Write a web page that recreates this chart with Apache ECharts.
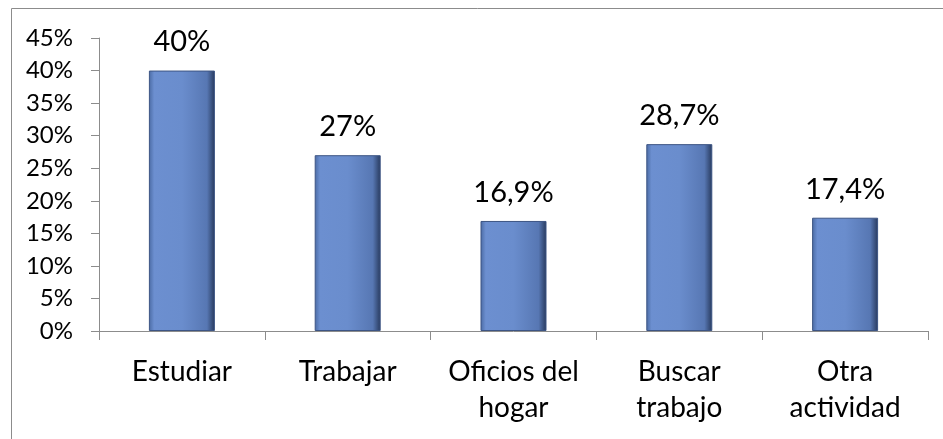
<!DOCTYPE html>
<html>
<head>
<meta charset="utf-8">
<script src="https://cdn.jsdelivr.net/npm/echarts@6/dist/echarts.min.js"></script>
<style>
  html, body { margin: 0; padding: 0; background: #fff; }
  #chart { width: 943px; height: 439px; }
</style>
</head>
<body>
<div id="chart"></div>
<script>
// categorias y valores (%)
var categories = ['Estudiar', 'Trabajar', 'Oficios del\nhogar', 'Buscar\ntrabajo', 'Otra\nactividad'];
var values = [40, 27, 16.9, 28.7, 17.4];
var yTicks = [0, 5, 10, 15, 20, 25, 30, 35, 40, 45];

var chart = echarts.init(document.getElementById('chart'));

var barColor = new echarts.graphic.LinearGradient(0, 0, 1, 0, [
  { offset: 0, color: '#4a6aa3' },
  { offset: 0.08, color: '#6c8fd0' },
  { offset: 0.5, color: '#6a8dcd' },
  { offset: 0.88, color: '#5777b3' },
  { offset: 1, color: '#27395c' }
]);

var option = {
  animation: false,
  textStyle: { fontFamily: 'Lato, "Open Sans", sans-serif' },
  graphic: [{
    type: 'rect',
    shape: { x: 11.5, y: 8.5, width: 1000, height: 1000 },
    style: { fill: 'none', stroke: '#8c8c8c', lineWidth: 1 },
    silent: true
  }],
  grid: { left: 99, right: 15, top: 38, bottom: 108 },
  xAxis: {
    type: 'category',
    data: categories,
    axisLine: { lineStyle: { color: '#8c8c8c', width: 1 } },
    axisTick: { show: true, length: 9, lineStyle: { color: '#8c8c8c' } },
    axisLabel: { color: '#000', fontSize: 28, lineHeight: 36, margin: 23, interval: 0, hideOverlap: false }
  },
  yAxis: {
    type: 'value',
    min: yTicks[0],
    max: yTicks[yTicks.length - 1],
    interval: 5,
    splitLine: { show: false },
    axisLine: { show: true, lineStyle: { color: '#8c8c8c', width: 1 } },
    axisTick: { show: true, length: 8, lineStyle: { color: '#8c8c8c' } },
    axisLabel: { color: '#000', fontSize: 24, margin: 26, formatter: '{value}%' }
  },
  series: [{
    type: 'bar',
    data: values,
    barWidth: 66,
    itemStyle: { color: barColor, borderColor: '#3d5584', borderWidth: 1 },
    label: {
      show: true,
      position: 'top',
      distance: 14,
      color: '#000',
      fontSize: 29,
      formatter: function (p) { return String(p.value).replace('.', ',') + '%'; }
    }
  }]
};
chart.setOption(option);
</script>
</body>
</html>
